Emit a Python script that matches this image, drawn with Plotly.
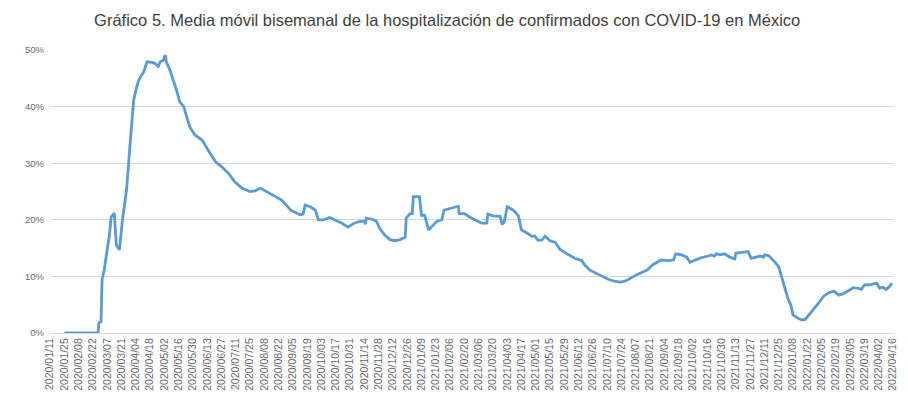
import plotly.graph_objects as go
import pandas as pd

# Data (percent of confirmed cases hospitalized, 14-day moving average)
fechas = [
    "2020-01-25", "2020-02-27", "2020-02-28", "2020-03-01", "2020-03-02", "2020-03-04", "2020-03-07",
    "2020-03-09", "2020-03-11", "2020-03-14", "2020-03-16", "2020-03-19", "2020-03-22", "2020-03-26",
    "2020-03-29", "2020-03-31", "2020-04-02", "2020-04-05", "2020-04-07", "2020-04-10", "2020-04-12",
    "2020-04-15", "2020-04-20", "2020-04-23", "2020-04-26", "2020-04-28", "2020-05-01", "2020-05-03",
    "2020-05-04", "2020-05-08", "2020-05-11", "2020-05-14", "2020-05-17", "2020-05-21", "2020-05-24",
    "2020-05-27", "2020-06-01", "2020-06-08", "2020-06-14", "2020-06-21", "2020-06-27", "2020-07-04",
    "2020-07-10", "2020-07-17", "2020-07-25", "2020-07-30", "2020-08-04", "2020-08-10", "2020-08-18",
    "2020-08-25", "2020-09-03", "2020-09-12", "2020-09-15", "2020-09-17", "2020-09-22", "2020-09-27",
    "2020-09-30", "2020-10-05", "2020-10-11", "2020-10-16", "2020-10-23", "2020-10-29", "2020-11-03",
    "2020-11-09", "2020-11-14", "2020-11-15", "2020-11-16", "2020-11-22", "2020-11-26", "2020-11-29",
    "2020-12-04", "2020-12-09", "2020-12-14", "2020-12-19", "2020-12-24", "2020-12-25", "2020-12-29",
    "2020-12-31", "2021-01-01", "2021-01-07", "2021-01-09", "2021-01-12", "2021-01-16", "2021-01-19",
    "2021-01-24", "2021-01-29", "2021-01-31", "2021-02-06", "2021-02-14", "2021-02-15", "2021-02-20",
    "2021-02-25", "2021-03-02", "2021-03-09", "2021-03-14", "2021-03-15", "2021-03-20", "2021-03-27",
    "2021-03-29", "2021-03-31", "2021-04-03", "2021-04-09", "2021-04-14", "2021-04-17", "2021-04-22",
    "2021-04-27", "2021-04-30", "2021-05-03", "2021-05-07", "2021-05-10", "2021-05-15", "2021-05-20",
    "2021-05-25", "2021-05-30", "2021-06-04", "2021-06-08", "2021-06-15", "2021-06-18", "2021-06-23",
    "2021-06-30", "2021-07-06", "2021-07-11", "2021-07-18", "2021-07-23", "2021-07-28", "2021-08-03",
    "2021-08-09", "2021-08-18", "2021-08-24", "2021-09-01", "2021-09-08", "2021-09-13", "2021-09-15",
    "2021-09-21", "2021-09-26", "2021-09-29", "2021-10-04", "2021-10-10", "2021-10-17", "2021-10-20",
    "2021-10-23", "2021-10-25", "2021-10-28", "2021-11-02", "2021-11-07", "2021-11-12", "2021-11-13",
    "2021-11-20", "2021-11-25", "2021-11-28", "2021-12-02", "2021-12-07", "2021-12-10", "2021-12-11",
    "2021-12-15", "2021-12-18", "2021-12-22", "2021-12-25", "2021-12-28", "2021-12-31", "2022-01-03",
    "2022-01-06", "2022-01-08", "2022-01-13", "2022-01-17", "2022-01-20", "2022-01-25", "2022-01-30",
    "2022-02-03", "2022-02-07", "2022-02-12", "2022-02-17", "2022-02-22", "2022-02-27", "2022-03-03",
    "2022-03-08", "2022-03-13", "2022-03-16", "2022-03-19", "2022-03-24", "2022-03-31", "2022-04-03",
    "2022-04-06", "2022-04-09", "2022-04-12", "2022-04-15",
]
hospitalizacion = [
    0.0, 0.0, 1.8, 2.0, 9.4, 11.0, 14.7,
    17.0, 20.5, 21.2, 15.5, 14.7, 20.0, 25.3,
    32.3, 37.0, 41.2, 43.5, 44.7, 45.6, 46.2,
    47.9, 47.8, 47.6, 47.1, 47.9, 48.2, 49.1,
    47.9, 46.2, 44.7, 42.9, 40.9, 40.0, 38.2,
    36.4, 35.0, 34.1, 32.3, 30.3, 29.4, 28.2,
    26.7, 25.6, 25.0, 25.1, 25.6, 25.0, 24.1,
    23.5, 21.7, 20.9, 21.0, 22.6, 22.3, 21.7,
    20.0, 20.0, 20.4, 20.0, 19.4, 18.7, 19.3,
    19.7, 19.8, 19.2, 20.3, 20.1, 19.7, 18.5,
    17.3, 16.5, 16.3, 16.5, 16.9, 20.3, 21.1,
    21.1, 24.1, 24.1, 20.8, 20.8, 18.2, 18.8,
    19.7, 20.0, 21.7, 22.0, 22.4, 21.1, 21.1,
    20.5, 20.0, 19.4, 19.4, 21.0, 20.7, 20.6,
    19.2, 19.6, 22.3, 21.7, 20.7, 18.2, 17.7,
    17.1, 17.1, 16.4, 16.4, 17.1, 16.3, 16.0,
    14.7, 14.2, 13.6, 13.2, 12.8, 12.0, 11.1,
    10.5, 9.9, 9.5, 9.1, 9.0, 9.2, 9.8,
    10.4, 11.1, 12.1, 12.9, 12.8, 12.9, 14.0,
    13.8, 13.4, 12.5, 12.9, 13.3, 13.6, 13.8,
    13.6, 14.0, 13.8, 14.0, 13.4, 13.1, 14.1,
    14.2, 14.4, 13.2, 13.4, 13.6, 13.4, 13.8,
    13.7, 13.2, 12.4, 11.7, 9.9, 7.9, 6.1,
    4.9, 3.2, 2.6, 2.3, 2.4, 3.5, 4.5,
    5.5, 6.5, 7.1, 7.4, 6.7, 7.0, 7.5,
    8.0, 7.9, 7.7, 8.5, 8.5, 8.8, 7.9,
    8.1, 7.7, 8.1, 8.8,
]

# Tick labels every 14 days
ticks_x = pd.date_range("2020-01-11", "2022-04-16", freq="14D")
tick_text = [d.strftime("%Y/%m/%d") for d in ticks_x]
ticks_y = [0, 10, 20, 30, 40, 50]
ticks_y_text = [f"{v}%" for v in ticks_y]

fig = go.Figure()
fig.add_trace(go.Scatter(
    x=pd.to_datetime(fechas), y=hospitalizacion, mode="lines",
    line=dict(color="#5B9BD5", width=2.8), showlegend=False,
))

# The page body adds an 8px offset, so the figure is sized 900x389
fig.update_layout(
    width=900, height=389,
    paper_bgcolor="white", plot_bgcolor="white",
    margin=dict(l=42, r=15, t=42, b=64, autoexpand=False),
    font=dict(family="Liberation Sans, Arial, sans-serif", color="#595959"),
    title=dict(
        text="Gráfico 5. Media móvil bisemanal de la hospitalización de confirmados con COVID-19 en México",
        x=0.488, xanchor="center", y=0.969, yanchor="middle", yref="container",
        font=dict(size=16.5, color="#404040"),
    ),
    xaxis=dict(
        type="date", automargin=False,
        range=["2020-01-11", "2022-04-16"],
        tickvals=ticks_x, ticktext=tick_text, tickangle=-90,
        tickfont=dict(size=10.5, color="#6a6a6a"),
        showgrid=False, showline=True, linecolor="#d9d9d9", linewidth=1,
        ticks="", zeroline=False,
    ),
    yaxis=dict(
        automargin=False,
        range=[0, 50], tickvals=ticks_y, ticktext=ticks_y_text,
        tickfont=dict(size=9.5, color="#6a6a6a"),
        ticklabelstandoff=5,
        showgrid=True, gridcolor="#d9d9d9", gridwidth=1,
        zeroline=False, showline=False, ticks="",
    ),
)

fig.write_html("out.html")
